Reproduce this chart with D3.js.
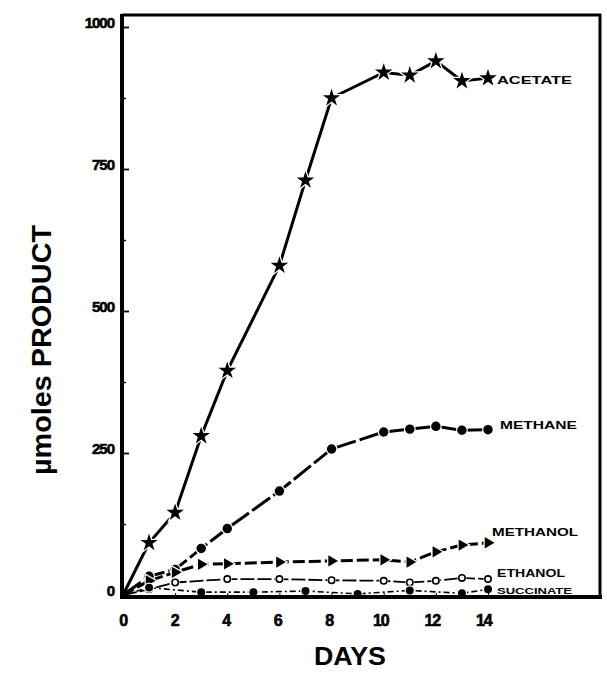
<!DOCTYPE html>
<html>
<head>
<meta charset="utf-8">
<script src="https://cdn.jsdelivr.net/npm/d3@7"></script>
<style>
	body { margin: 0; background: #fff; }
	text { font-family: "Liberation Sans", Arial, sans-serif; fill: #000; }
</style>
</head>
<body>
<div id="graph-container"></div>
<script>

// values (umoles product vs days)
var acetateDays = [0, 1, 2, 3, 4, 6, 7, 8, 10, 11, 12, 13, 14];
var acetate     = [0, 92, 145, 280, 395, 580, 730, 875, 920, 915, 940, 905, 910];

var methaneDays = [0, 1, 2, 3, 4, 6, 8, 10, 11, 12, 13, 14];
var methane     = [0, 33, 45, 82, 117, 183, 257, 287, 292, 297, 290, 291];

var methanolDays = [0, 1, 2, 3, 4, 6, 8, 10, 11, 12, 13, 14];
var methanol     = [0, 25, 40, 54, 55, 58, 60, 62, 58, 76, 88, 92];

var ethanolDays = [0, 1, 2, 4, 6, 8, 10, 11, 12, 13, 14];
var ethanol     = [0, 10, 22, 28, 28, 26, 25, 22, 25, 30, 28];

var succinateDays = [0, 1, 3, 5, 7, 9, 11, 13, 14];
var succinate     = [0, 13, 5, 5, 7, 2, 8, 3, 10];

var seriesNames = ["ACETATE", "METHANE", "METHANOL", "ETHANOL", "SUCCINATE"];
var yTicks = [0, 250, 500, 750, 1000];
var yMinorTicks = [125, 375, 625, 875];
var xTicks = [0, 2, 4, 6, 8, 10, 12, 14];

window.onload = function(){
	var w = 607, h = 673;

	var svg = d3.select("#graph-container")
		.append("svg")
		.attr("width", w)
		.attr("height", h);

	var x = d3.scaleLinear().domain([0, 14]).range([123, 488]);
	var y = d3.scaleLinear().domain([0, 1000]).range([595, 27]);

	function pts(days, vals){
		return days.map(function(d, i){ return [d, vals[i]]; });
	}

	var series = [
		{ name: seriesNames[0], data: pts(acetateDays, acetate), dash: null, sym: d3.symbolStar, size: 95, fill: "#000", rot: 0, lw: 3, lx: 9, ly: 2, tl: 75, fs: 11 },
		{ name: seriesNames[1], data: pts(methaneDays, methane), dash: "22,4", sym: d3.symbolCircle, size: 70, fill: "#000", rot: 0, lw: 3, lx: 12, ly: -5, tl: 77, fs: 11 },
		{ name: seriesNames[2], data: pts(methanolDays, methanol), dash: "12,4", sym: d3.symbolTriangle, size: 55, fill: "#000", rot: 90, lw: 3, lx: 4, ly: -11, tl: 86, fs: 11 },
		{ name: seriesNames[3], data: pts(ethanolDays, ethanol), dash: "14,3", sym: d3.symbolCircle, size: 34, fill: "#fff", rot: 0, lw: 1.8, lx: 9, ly: -6, tl: 68, fs: 10 },
		{ name: seriesNames[4], data: pts(succinateDays, succinate), dash: "6,3,2,3", sym: d3.symbolCircle, size: 50, fill: "#000", rot: 0, lw: 1.6, lx: 9, ly: 1, tl: 75, fs: 9.5 }
	];

	var line = d3.line()
		.x(function(d){ return x(d[0]); })
		.y(function(d){ return y(d[1]); });

	var plot = svg.append("g");

	series.forEach(function(s){
		plot.append("path")
			.attr("d", line(s.data))
			.attr("fill", "none")
			.attr("stroke", "#000")
			.attr("stroke-width", s.lw)
			.attr("stroke-dasharray", s.dash);
	});

	// markers, white halo makes the breaks in the lines
	series.forEach(function(s){
		plot.append("g")
			.selectAll("path")
			.data(s.data.slice(1))
			.enter()
			.append("path")
				.attr("d", d3.symbol().type(s.sym).size(s.size))
				.attr("transform", function(d){
					return "translate(" + x(d[0]) + "," + y(d[1]) + ") rotate(" + s.rot + ")";
				})
				.attr("fill", s.fill)
				.attr("stroke", "#fff")
				.attr("stroke-width", 2.5)
				.attr("paint-order", "stroke");
		if (s.fill == "#fff") {
			plot.append("g")
				.selectAll("circle")
				.data(s.data.slice(1))
				.enter()
				.append("circle")
					.attr("cx", function(d){ return x(d[0]); })
					.attr("cy", function(d){ return y(d[1]); })
					.attr("r", 3.2)
					.attr("fill", "#fff")
					.attr("stroke", "#000")
					.attr("stroke-width", 1.6);
		}
		var last = s.data[s.data.length - 1];
		plot.append("text")
			.attr("x", x(last[0]) + s.lx)
			.attr("y", y(last[1]) + s.ly)
			.attr("dy", "0.35em")
			.attr("font-size", s.fs)
			.attr("font-weight", "bold")
			.attr("textLength", s.tl)
			.attr("lengthAdjust", "spacingAndGlyphs")
			.text(s.name);
	});

	// frame
	svg.append("line").attr("x1", 122).attr("x2", 601).attr("y1", 15).attr("y2", 15)
		.attr("stroke", "#000").attr("stroke-width", 3);
	svg.append("line").attr("x1", 600).attr("x2", 600).attr("y1", 14).attr("y2", 599)
		.attr("stroke", "#000").attr("stroke-width", 3);

	// axes
	var yAxis = d3.axisRight(y).tickValues(yTicks).tickSize(7).tickFormat("");
	svg.append("g")
		.attr("transform", "translate(122,0)")
		.call(yAxis)
		.call(function(g){
			g.select(".domain").remove();
			g.selectAll(".tick line").attr("stroke-width", 1.8);
		});
	svg.append("g")
		.attr("transform", "translate(122,0)")
		.call(d3.axisRight(y).tickValues(yMinorTicks).tickSize(4).tickFormat(""))
		.call(function(g){
			g.select(".domain").remove();
			g.selectAll(".tick line").attr("stroke-width", 1.4);
		});

	svg.append("g")
		.selectAll("text")
		.data(yTicks)
		.enter()
		.append("text")
			.attr("x", 114)
			.attr("y", function(d){ return y(d) - 4; })
			.attr("dy", "0.35em")
			.attr("text-anchor", "end")
			.attr("font-size", 15)
			.attr("font-weight", "bold")
			.attr("letter-spacing", -1)
			.attr("stroke", "#000")
			.attr("stroke-width", 0.6)
			.text(function(d){ return d; });

	var xAxis = d3.axisTop(x).tickValues(xTicks).tickSize(4).tickFormat("");
	svg.append("g")
		.attr("transform", "translate(0,597)")
		.call(xAxis)
		.call(function(g){ g.select(".domain").remove(); });

	svg.append("g")
		.selectAll("text")
		.data(xTicks)
		.enter()
		.append("text")
			.attr("x", function(d){ return x(d) - d * 0.3; })
			.attr("y", 620)
			.attr("dy", "0.35em")
			.attr("text-anchor", "middle")
			.attr("font-size", 16)
			.attr("font-weight", "bold")
			.attr("letter-spacing", -1.2)
			.attr("stroke", "#000")
			.attr("stroke-width", 0.6)
			.text(function(d){ return d; });

	svg.append("line").attr("x1", 122).attr("x2", 122).attr("y1", 14).attr("y2", 599)
		.attr("stroke", "#000").attr("stroke-width", 4);
	svg.append("line").attr("x1", 120).attr("x2", 602).attr("y1", 597).attr("y2", 597)
		.attr("stroke", "#000").attr("stroke-width", 4);

	svg.append("text")
		.attr("x", 350)
		.attr("y", 656)
		.attr("dy", "0.35em")
		.attr("text-anchor", "middle")
		.attr("font-size", 25)
		.attr("font-weight", "bold")
		.attr("textLength", 72)
		.attr("lengthAdjust", "spacingAndGlyphs")
		.text("DAYS");

	svg.append("text")
		.attr("transform", "translate(42,350) rotate(-90)")
		.attr("dy", "0.35em")
		.attr("text-anchor", "middle")
		.attr("font-size", 27)
		.attr("font-weight", "bold")
		.attr("textLength", 250)
		.attr("lengthAdjust", "spacingAndGlyphs")
		.text("µmoles PRODUCT");
}
</script>
</body>
</html>
